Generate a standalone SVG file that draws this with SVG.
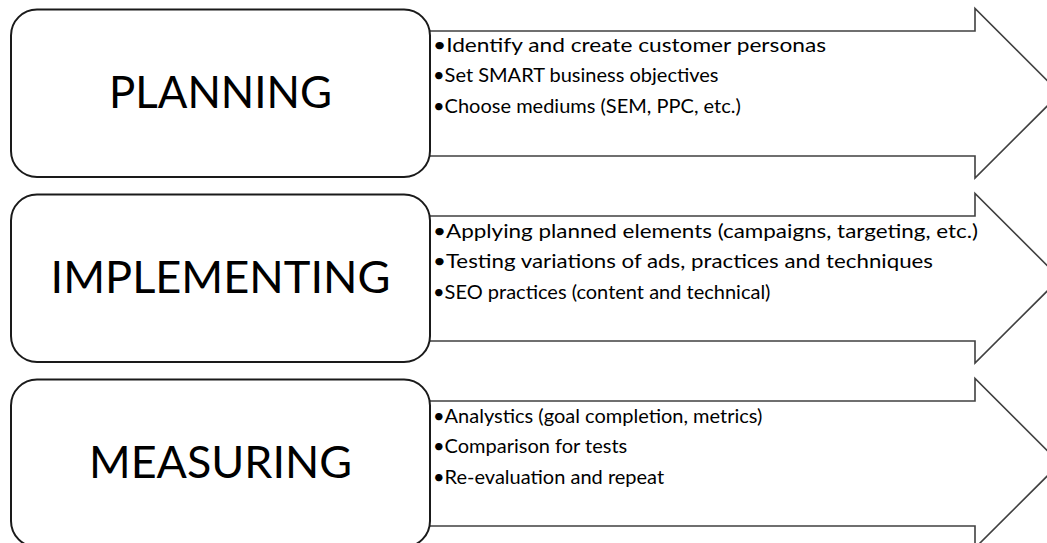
<svg xmlns="http://www.w3.org/2000/svg" width="1047" height="543" viewBox="0 0 1047 543">
  <style>
    .arrow { fill: #ffffff; stroke: #404040; stroke-width: 1.6; stroke-linejoin: miter; }
    .box { fill: #ffffff; stroke: #1a1a1a; stroke-width: 2; }
    .title { font-family: Lato, "Open Sans", "Liberation Sans", sans-serif; font-size: 44px; fill: #000000; text-anchor: middle; }
    .item { font-family: Lato, "Open Sans", "Liberation Sans", sans-serif; font-size: 20px; fill: #000000; }
  </style>
  <rect width="1047" height="543" fill="#ffffff"/>
  <g id="connectors">
    <path class="arrow" d="M425,31 H975 V8.5 L1060,93.3 L975,178 V156 H425 Z"/>
    <path class="arrow" d="M425,216 H975 V193.5 L1060,278.3 L975,363 V341 H425 Z"/>
    <path class="arrow" d="M425,401 H975 V378.5 L1060,463.3 L975,548 V526 H425 Z"/>
  </g>
  <g id="planning">
    <rect class="box" x="11" y="9.5" width="419" height="167.5" rx="26" ry="26"/>
    <text class="title" x="220.5" y="108" textLength="223" lengthAdjust="spacingAndGlyphs">PLANNING</text>
    <text class="item" x="433" y="51.7" textLength="393" lengthAdjust="spacingAndGlyphs">•Identify and create customer personas</text>
    <text class="item" x="433" y="82.3">•Set SMART business objectives</text>
    <text class="item" x="433" y="113">•Choose mediums (SEM, PPC, etc.)</text>
  </g>
  <g id="implementing">
    <rect class="box" x="11" y="194.5" width="419" height="167.5" rx="26" ry="26"/>
    <text class="title" x="220.5" y="293" textLength="340" lengthAdjust="spacingAndGlyphs">IMPLEMENTING</text>
    <text class="item" x="433" y="237.7" textLength="545" lengthAdjust="spacingAndGlyphs">•Applying planned elements (campaigns, targeting, etc.)</text>
    <text class="item" x="433" y="268.3" textLength="500" lengthAdjust="spacingAndGlyphs">•Testing variations of ads, practices and techniques</text>
    <text class="item" x="433" y="299">•SEO practices (content and technical)</text>
  </g>
  <g id="measuring">
    <rect class="box" x="11" y="379.5" width="419" height="167.5" rx="26" ry="26"/>
    <text class="title" x="220.5" y="478" textLength="263" lengthAdjust="spacingAndGlyphs">MEASURING</text>
    <text class="item" x="433" y="422.7">•Analystics (goal completion, metrics)</text>
    <text class="item" x="433" y="453.3">•Comparison for tests</text>
    <text class="item" x="433" y="484">•Re-evaluation and repeat</text>
  </g>
</svg>
